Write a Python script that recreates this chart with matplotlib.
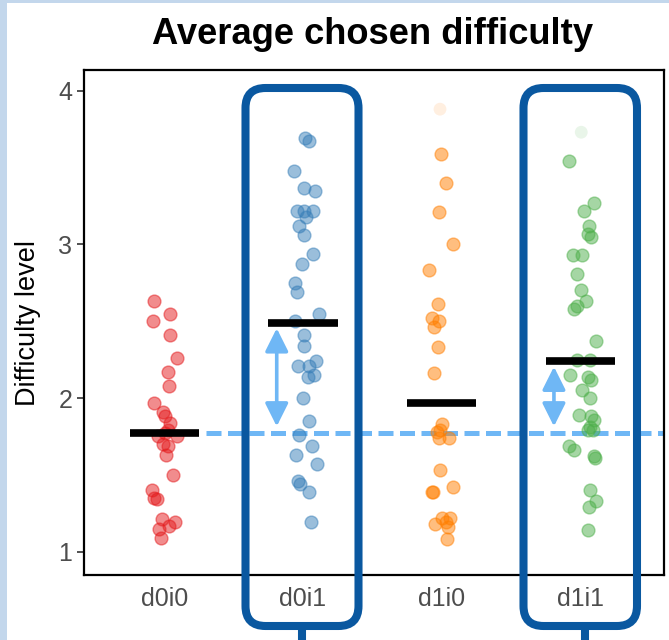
import numpy as np
import matplotlib
matplotlib.use("Agg")
import matplotlib.pyplot as plt
from matplotlib.patches import FancyBboxPatch, Rectangle

plt.rcParams['font.family'] = ['Liberation Sans', 'DejaVu Sans']

# categories and colours (Set1 style)
categories = ['d0i0', 'd0i1', 'd1i0', 'd1i1']
colors = ['#e41a1c', '#377eb8', '#ff7f00', '#4daf4a']

# per-participant average difficulty
d0i0_vals = [2.63, 2.55, 2.50, 2.41, 2.26, 2.17, 2.08, 1.97, 1.91, 1.88, 1.84, 1.79, 1.75, 1.75,
             1.77, 1.70, 1.69, 1.63, 1.50, 1.40, 1.35, 1.34, 1.21, 1.19, 1.17, 1.15, 1.09]
d0i0_jit = [-0.074, 0.038, -0.081, 0.038, 0.090, 0.025, 0.032, -0.074, -0.009, 0.006, 0.042, 0.027, -0.045, 0.088,
            0.004, -0.009, 0.027, 0.011, 0.063, -0.092, -0.074, -0.052, -0.018, 0.078, 0.032, -0.038, -0.027]

d0i1_vals = [3.69, 3.67, 3.48, 3.37, 3.35, 3.22, 3.22, 3.22, 3.18, 3.12, 3.06, 2.94, 2.87, 2.75, 2.69, 2.55, 2.50,
             2.41, 2.34, 2.21, 2.24, 2.21, 2.14, 2.15, 2.00, 1.85, 1.76, 1.69, 1.63, 1.57, 1.46, 1.44, 1.39, 1.19]
d0i1_jit = [0.014, 0.041, -0.067, 0.009, 0.087, -0.043, 0.009, 0.072, 0.019, -0.031, 0.005, 0.070, -0.007, -0.056,
            -0.043, 0.113, -0.058, 0.009, 0.005, -0.036, 0.094, 0.045, 0.034, 0.077, 0.0, 0.045, -0.029, 0.063,
            -0.051, 0.103, -0.038, -0.019, 0.045, 0.058]

d1i0_vals = [3.59, 3.40, 3.21, 3.00, 2.83, 2.61, 2.52, 2.50, 2.46, 2.33, 2.16, 1.83, 1.79, 1.78, 1.74, 1.74,
             1.53, 1.39, 1.39, 1.42, 1.18, 1.22, 1.22, 1.19, 1.16, 1.08]
d1i0_jit = [-0.002, 0.034, -0.017, 0.084, -0.089, -0.027, -0.070, -0.022, -0.056, -0.027, -0.058, 0.002, -0.014,
            -0.031, 0.056, -0.019, -0.014, -0.065, -0.070, 0.082, -0.045, 0.005, 0.058, 0.029, 0.048, 0.036]

d1i1_vals = [3.54, 3.27, 3.22, 3.12, 3.07, 3.05, 2.93, 2.93, 2.81, 2.70, 2.63, 2.60, 2.58, 2.37, 2.25, 2.25,
             2.15, 2.14, 2.12, 2.05, 2.00, 1.89, 1.88, 1.86, 1.81, 1.79, 1.79, 1.69, 1.66, 1.62, 1.61, 1.40,
             1.33, 1.29, 1.14]
d1i1_jit = [-0.084, 0.101, 0.027, 0.065, 0.058, 0.077, -0.055, 0.010, -0.026, 0.007, 0.043, -0.022, -0.043,
            0.111, -0.026, 0.068, -0.074, 0.058, 0.077, 0.012, 0.068, -0.012, 0.075, 0.101, 0.070, 0.053, 0.089,
            -0.079, -0.048, 0.099, 0.106, 0.070, 0.113, 0.063, 0.056]

# excluded (faded) points
outlier_cat = [3, 4]
outlier_vals = [3.88, 3.73]
outlier_jit = [-0.012, 0.007]

group_means = [1.77, 2.49, 1.97, 2.24]
baseline = group_means[0]
highlight = [2, 4]            # categories boxed, with arrows
arrow_offset = -0.19

all_vals = [d0i0_vals, d0i1_vals, d1i0_vals, d1i1_vals]
all_jit = [d0i0_jit, d0i1_jit, d1i0_jit, d1i1_jit]

W, H = 669, 640
fig = plt.figure(figsize=(W / 100, H / 100), dpi=100)
ax = fig.add_axes([83.5 / W, 1 - 575 / H, (664 - 83.5) / W, (575 - 70) / H])

for i, (vals, jit) in enumerate(zip(all_vals, all_jit)):
    xs = i + 1 + np.array(jit)
    ax.scatter(xs, vals, s=85, color=colors[i], alpha=0.5, edgecolors=colors[i], linewidths=1, zorder=3)

for c, v, j in zip(outlier_cat, outlier_vals, outlier_jit):
    ax.scatter([c + j], [v], s=85, color=colors[c - 1], alpha=0.12, edgecolors='none', zorder=3)

# dashed reference line at the d0i0 mean
ax.plot([1.30, 4.6], [baseline, baseline], color='#6fb7f5', lw=3.6, dashes=(3, 1.3), zorder=2)

# group means
for i, m in enumerate(group_means):
    ax.plot([i + 1 - 0.25, i + 1 + 0.25], [m, m], color='black', lw=5.5, solid_capstyle='butt', zorder=4)

for c in highlight:
    x = c + arrow_offset
    ax.annotate('', xy=(x, group_means[c - 1]), xytext=(x, baseline),
                arrowprops=dict(arrowstyle='<|-|>,head_length=0.7,head_width=0.35', color='#6fb7f5',
                                lw=2.6, shrinkA=5, shrinkB=4, mutation_scale=20), zorder=4)

ax.set_xlim(0.416, 4.604)
ax.set_ylim(0.848, 4.135)
ax.set_xticks(range(1, 5))
ax.set_xticklabels(categories)
ax.set_yticks([1, 2, 3, 4])
ax.tick_params(axis='x', length=0, pad=9, labelsize=18, labelcolor='#4d4d4d')
ax.tick_params(axis='y', length=5, width=1.2, color='#333333', pad=3, labelsize=18, labelcolor='#4d4d4d')
for sp in ax.spines.values():
    sp.set_linewidth(1.6)
    sp.set_color('black')
ax.set_ylabel('Difficulty level', fontsize=19.5)
ax.yaxis.set_label_coords(-0.073, 0.5)

fig.text(373 / W, 1 - 34 / H, 'Average chosen difficulty', fontsize=26.2, fontweight='bold',
         ha='center', va='center')

# rounded highlight boxes, drawn in pixel-ish inch coordinates
def px(x, y):
    return x / 100, (H - y) / 100

box_color = '#0a58a0'
for x0, x1, xstem in [(245.5, 358.5, 302), (523.5, 637, 585)]:
    bx, by = px(x0, 626)
    patch = FancyBboxPatch((bx, by), (x1 - x0) / 100, (626 - 88) / 100,
                           boxstyle='round,pad=0,rounding_size=0.2', transform=fig.dpi_scale_trans,
                           fill=False, edgecolor=box_color, lw=5.8, zorder=10, clip_on=False)
    fig.add_artist(patch)
    sx, sy0 = px(xstem, 629)
    _, sy1 = px(xstem, 645)
    fig.add_artist(plt.Line2D([sx, sx], [sy0, sy1], transform=fig.dpi_scale_trans,
                              color=box_color, lw=5.8, solid_capstyle='butt'))

# screenshot edge strips
fig.add_artist(Rectangle((0, 0), 7 / W, 1, transform=fig.transFigure, color='#c3d7ec', lw=0, zorder=0))
fig.add_artist(Rectangle((0, 1 - 3 / H), 1, 3 / H, transform=fig.transFigure, color='#c3d7ec', lw=0, zorder=0))

fig.savefig('out.png', dpi=100)
